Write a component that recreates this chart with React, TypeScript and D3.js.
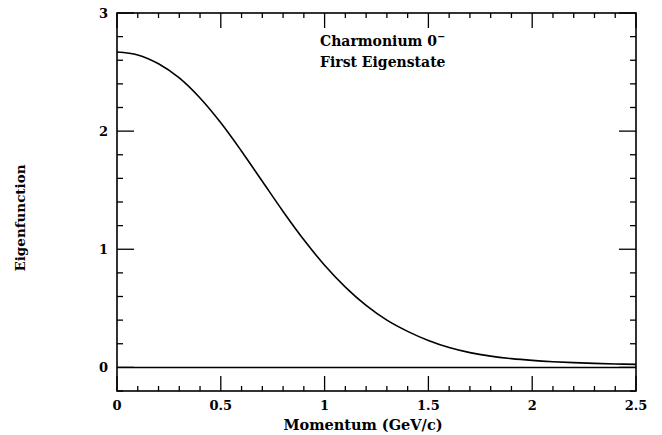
import React from "react";
import * as d3 from "d3";

const momentum = [0, 0.1, 0.2, 0.3, 0.4, 0.5, 0.6, 0.7, 0.8, 0.9, 1.0, 1.1, 1.2, 1.3, 1.4, 1.5, 1.6, 1.7, 1.8, 1.9, 2.0, 2.1, 2.2, 2.3, 2.4, 2.5];
const eigen = [2.67, 2.645, 2.57, 2.45, 2.28, 2.07, 1.83, 1.575, 1.32, 1.08, 0.865, 0.68, 0.525, 0.40, 0.305, 0.228, 0.168, 0.125, 0.095, 0.074, 0.059, 0.048, 0.04, 0.034, 0.029, 0.025];
const xTickLabels = ["0", "0.5", "1", "1.5", "2", "2.5"];
const yTickLabels = ["0", "1", "2", "3"];

const W = 662, H = 435;
const L = 117, R = 636, T = 13, B = 391;
const FONT = "'DejaVu Serif', serif";

export default function App() {
  const x = d3.scaleLinear().domain([0, 2.5]).range([L, R]);
  const y = d3.scaleLinear().domain([-0.2, 3]).range([B, T]);
  const line = d3.line<number>().x((_, i) => x(momentum[i])).y(d => y(d)).curve(d3.curveCatmullRom.alpha(0.5));
  const xMinor = d3.range(0, 26).map(i => i / 10);
  const yMinor = d3.range(-1, 16).map(i => i / 5);
  const ticks: JSX.Element[] = [];
  xMinor.forEach((v, i) => {
    const major = i % 5 === 0;
    const px = x(v);
    ticks.push(<line key={"xb" + i} x1={px} x2={px} y1={B} y2={B - (major ? 15 : 5)} />);
    ticks.push(<line key={"xt" + i} x1={px} x2={px} y1={T} y2={T + (major ? 15 : 5)} />);
  });
  yMinor.forEach((v, i) => {
    const major = Math.abs(v - Math.round(v)) < 1e-6;
    const py = y(v);
    ticks.push(<line key={"yl" + i} x1={L} x2={L + (major ? 17 : 6)} y1={py} y2={py} />);
    ticks.push(<line key={"yr" + i} x1={R} x2={R - (major ? 17 : 6)} y1={py} y2={py} />);
  });
  return (
    <svg width={W} height={H} style={{ position: "absolute", left: 0, top: 0, background: "#fff" }}>
      <rect x={0} y={0} width={W} height={H} fill="#fff" />
      <g stroke="#000" strokeWidth={1.3} fill="none">
        <rect x={L} y={T} width={R - L} height={B - T} strokeWidth={1.6} />
        {ticks}
        <line x1={L} x2={R} y1={y(0)} y2={y(0)} strokeWidth={1.5} />
        <path d={line(eigen) || ""} strokeWidth={1.6} />
      </g>
      <g fontFamily={FONT} fontWeight="bold" fontSize={13} fill="#000">
        {xTickLabels.map(t => (
          <text key={"xl" + t} x={x(+t)} y={410} textAnchor="middle">{t}</text>
        ))}
        {yTickLabels.map(t => (
          <text key={"yl" + t} x={108} y={y(+t) + 5} textAnchor="end">{t}</text>
        ))}
        <text x={363} y={430} fontSize={14.5} textAnchor="middle">Momentum (GeV/c)</text>
        <text transform={`translate(25,218) rotate(-90)`} fontSize={13.5} textAnchor="middle">Eigenfunction</text>
        <text x={320} y={46} fontSize={14}>Charmonium 0<tspan dy={-6} fontSize={10}>−</tspan></text>
        <text x={320} y={67} fontSize={14}>First Eigenstate</text>
      </g>
    </svg>
  );
}
